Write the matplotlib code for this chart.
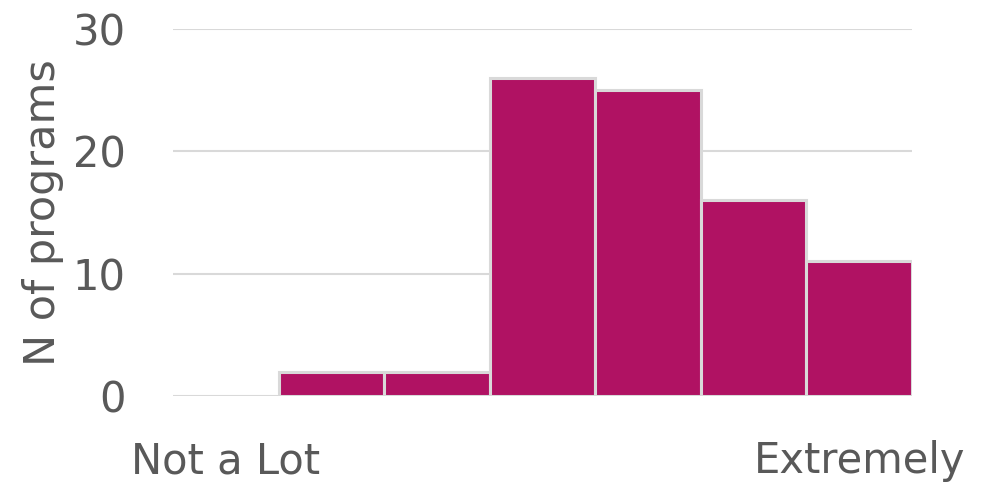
import matplotlib
matplotlib.use("Agg")
import matplotlib.pyplot as plt

bins = [0, 1, 2, 3, 4, 5, 6]
counts = [0, 2, 2, 26, 25, 16, 11]
tick_positions = [0, 6]
tick_labels = ["Not a Lot", "Extremely"]
y_ticks = [0, 10, 20, 30]

text_color = "#595959"
bar_color = "#B01263"
edge_color = "#D9D9D9"

plt.rcParams['font.family'] = ['DejaVu Sans']

fig = plt.figure(figsize=(9.86, 4.82), dpi=100)
ax = fig.add_axes([173/986, 86/482, (912-173)/986, (396-29)/482])

edges = [edge_color if c > 0 else "none" for c in counts]
ax.bar(bins, counts, width=1.0, color=bar_color, edgecolor=edges, linewidth=2.2, zorder=3)

ax.set_xlim(-0.5, 6.5)
ax.set_ylim(0, 30)
ax.set_yticks(y_ticks)
ax.set_yticklabels([str(v) for v in y_ticks])
ax.set_xticks(tick_positions)
ax.set_xticklabels(tick_labels)
ax.yaxis.grid(True, color=edge_color, linewidth=1.5, zorder=0)
ax.set_axisbelow(True)
for s in ax.spines.values():
    s.set_visible(False)
ax.tick_params(axis='both', length=0, colors=text_color, labelsize=30)
ax.tick_params(axis='y', pad=34)
ax.tick_params(axis='x', pad=32)
ax.set_ylabel("N of programs", color=text_color, fontsize=31, labelpad=6)

fig.savefig("out.png", dpi=100)
